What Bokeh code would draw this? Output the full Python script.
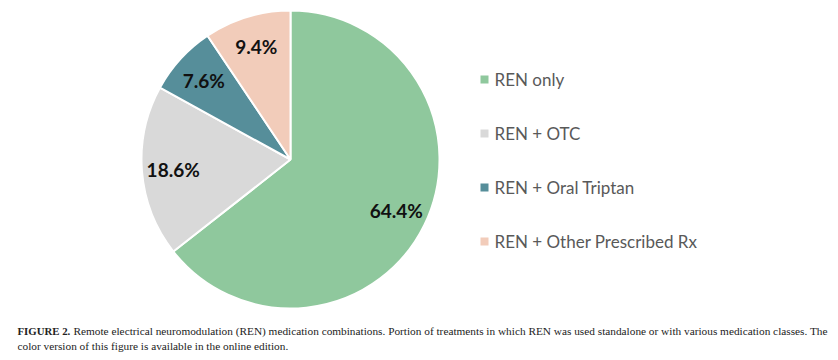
import numpy as np
from bokeh.plotting import figure
from bokeh.models import Range1d
from bokeh.core.properties import value
from bokeh.embed import file_html
from bokeh.resources import INLINE

categories = ["REN only", "REN + OTC", "REN + Oral Triptan", "REN + Other Prescribed Rx"]
shares = [64.4, 18.6, 7.6, 9.4]
labels = ["64.4%", "18.6%", "7.6%", "9.4%"]
colors = ["#8FC89D", "#D9D9D9", "#568E9A", "#F2CCBA"]
caption_bold = "FIGURE 2."
caption_line1 = ("Remote electrical neuromodulation (REN) medication combinations. Portion of treatments "
                 "in which REN was used standalone or with various medication classes. The")
caption_line2 = "color version of this figure is available in the online edition."

W, H = 838, 360
p = figure(width=W, height=H, output_backend="svg", toolbar_location=None,
           x_range=Range1d(0, W), y_range=Range1d(360 - H, 360), min_border=0)
p.axis.visible = False
p.grid.visible = False
p.outline_line_color = None
p.background_fill_color = "white"

cx, cy, R = 290, 360 - 159, 149
frac = np.array(shares) / sum(shares)
cum = np.concatenate([[0], np.cumsum(frac)])
starts = np.pi / 2 - cum[1:] * 2 * np.pi
ends = np.pi / 2 - cum[:-1] * 2 * np.pi
p.wedge(x=cx, y=cy, radius=R, start_angle=starts, end_angle=ends,
        fill_color=colors, line_color="white", line_width=2)

mids = (starts + ends) / 2
lr = 0.79 * R
p.text(x=cx + lr * np.cos(mids), y=cy + lr * np.sin(mids), text=labels,
       text_align="center", text_baseline="middle", text_font=value("Lato"),
       text_font_style="bold", text_font_size="19px", text_color="#111111")

# legend
ly = [360 - 79, 360 - 133, 360 - 187, 360 - 241]
p.rect(x=[484] * 4, y=ly, width=8, height=8, fill_color=colors, line_color=None)
p.text(x=[494] * 4, y=ly, text=categories, text_align="left", text_baseline="middle",
       text_font=value("Lato"), text_font_size="17px", text_color="#595959")

# caption
p.text(x=[17], y=[360 - 330], text=[caption_bold], text_align="left", text_baseline="middle",
       text_font=value("Liberation Serif"), text_font_style="bold", text_font_size="10.8px",
       text_color="#222222")
p.text(x=[73, 17], y=[360 - 330, 360 - 345], text=[caption_line1, caption_line2],
       text_align="left", text_baseline="middle",
       text_font=value("Liberation Serif"), text_font_size="11.3px", text_color="#222222")

open("out.html", "w").write(file_html(p, INLINE))
